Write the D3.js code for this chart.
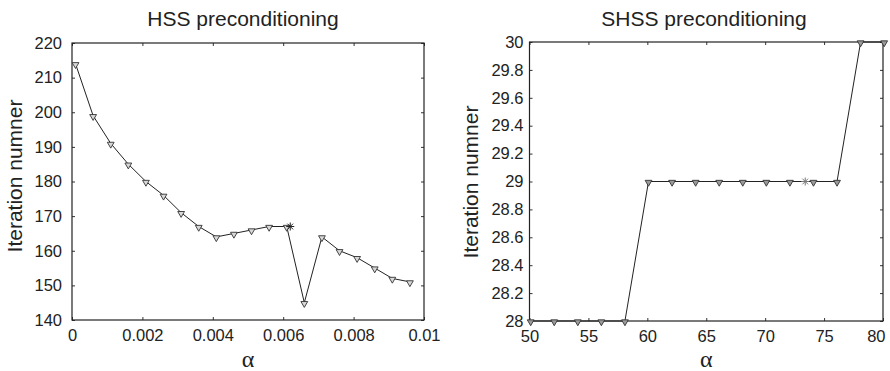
<!DOCTYPE html>
<html>
<head>
<meta charset="utf-8">
<script src="https://cdn.jsdelivr.net/npm/d3@7"></script>
<style>
  body { margin: 0; background: #fff; }
  svg text { font-family: "Liberation Sans", Arial, sans-serif; fill: #222; }
  .alpha { font-family: "Liberation Serif", "Times New Roman", serif; }
</style>
</head>
<body>
<div id="chart"></div>
<script>
// HSS panel data
const hssAlpha = [0.0001, 0.0006, 0.0011, 0.0016, 0.0021, 0.0026, 0.0031, 0.0036, 0.0041, 0.0046,
                  0.0051, 0.0056, 0.0061, 0.0066, 0.0071, 0.0076, 0.0081, 0.0086, 0.0091, 0.0096];
const hssIter = [214, 199, 191, 185, 180, 176, 171, 167, 164, 165,
                 166, 167, 167, 145, 164, 160, 158, 155, 152, 151];
const hssOptimal = [0.0062, 167];
const hssXTicks = [0, 0.002, 0.004, 0.006, 0.008, 0.01];
const hssYTicks = [140, 150, 160, 170, 180, 190, 200, 210, 220];

// SHSS panel data
const shssAlpha = [50.1, 52.1, 54.1, 56.1, 58.1, 60.1, 62.1, 64.1, 66.1, 68.1, 70.1, 72.1, 74.1, 76.1, 78.1, 80.1];
const shssIter = [28, 28, 28, 28, 28, 29, 29, 29, 29, 29, 29, 29, 29, 29, 30, 30];
const shssOptimal = [73.4, 29];
const shssXTicks = [50, 55, 60, 65, 70, 75, 80];
const shssYTicks = [28, 28.2, 28.4, 28.6, 28.8, 29, 29.2, 29.4, 29.6, 29.8, 30];

const svg = d3.select("#chart").append("svg")
  .attr("width", 890)
  .attr("height", 371);

/****** draws one framed panel with inward ticks, line and markers ******/
function drawPanel(p) {
  const x = d3.scaleLinear().domain(p.xDomain).range([p.left, p.right]);
  const y = d3.scaleLinear().domain(p.yDomain).range([p.bottom, p.top]);
  const g = svg.append("g");

  // inward ticks on all four sides
  const tick = 3;
  const bottomAxis = d3.axisBottom(x).tickValues(p.xTicks).tickSizeInner(-tick).tickSizeOuter(0)
    .tickPadding(9).tickFormat(p.xFormat);
  const leftAxis = d3.axisLeft(y).tickValues(p.yTicks).tickSizeInner(-tick).tickSizeOuter(0)
    .tickPadding(p.yPad).tickFormat(p.yFormat);

  const gb = g.append("g").attr("transform", "translate(0," + p.bottom + ")").call(bottomAxis);
  g.append("g").attr("transform", "translate(" + p.left + ",0)").call(leftAxis);
  g.append("g").attr("transform", "translate(0," + p.top + ")")
    .call(d3.axisTop(x).tickValues(p.xTicks).tickSizeInner(-tick).tickSizeOuter(0).tickFormat(""));
  g.append("g").attr("transform", "translate(" + p.right + ",0)")
    .call(d3.axisRight(y).tickValues(p.yTicks).tickSizeInner(-tick).tickSizeOuter(0).tickFormat(""));

  g.selectAll(".domain").remove();
  g.selectAll(".tick line").attr("stroke", "#333");
  g.selectAll(".tick text").style("font-size", "16.5px").attr("fill", "#222");

  // last x label sits flush against the picture edge in the right panel
  if (p.lastLabelEnd) {
    gb.selectAll(".tick text").filter((d, i, n) => i === n.length - 1)
      .attr("text-anchor", "end").attr("x", p.lastLabelEnd - p.right);
  }

  // frame
  g.append("rect")
    .attr("x", p.left).attr("y", p.top)
    .attr("width", p.right - p.left).attr("height", p.bottom - p.top)
    .attr("fill", "none").attr("stroke", "#222").attr("stroke-width", 1.2);

  // data line
  const pts = p.xs.map((d, i) => [d, p.ys[i]]);
  g.append("path")
    .datum(pts)
    .attr("fill", "none")
    .attr("stroke", "#222")
    .attr("stroke-width", 1)
    .attr("d", d3.line().x(d => x(d[0])).y(d => y(d[1])));

  // triangle markers (pointing down)
  const tri = d3.symbol().type(d3.symbolTriangle).size(20);
  g.selectAll(".mk").data(pts).enter().append("path")
    .attr("class", "mk")
    .attr("d", tri)
    .attr("transform", d => "translate(" + x(d[0]) + "," + (y(d[1]) + 0.8) + ") rotate(180)")
    .attr("fill", p.markFill)
    .attr("stroke", "#333")
    .attr("stroke-width", 0.9);

  // asterisk for optimal value
  const sx = x(p.star[0]), sy = y(p.star[1]);
  const r = 4;
  const star = g.append("g").attr("stroke", p.starColor).attr("stroke-width", 1);
  [0, 45, 90, 135].forEach(a => {
    const rad = a * Math.PI / 180;
    star.append("line")
      .attr("x1", sx - r * Math.cos(rad)).attr("y1", sy - r * Math.sin(rad))
      .attr("x2", sx + r * Math.cos(rad)).attr("y2", sy + r * Math.sin(rad));
  });

  // title and axis labels
  svg.append("text")
    .attr("x", p.titleX).attr("y", 26)
    .attr("text-anchor", "middle")
    .style("font-size", "21px")
    .text(p.title);

  svg.append("text")
    .attr("transform", "translate(" + p.ylabX + "," + p.ylabY + ") rotate(-90)")
    .attr("text-anchor", "middle")
    .style("font-size", "21px")
    .text("Iteration numner");

  svg.append("text")
    .attr("class", "alpha")
    .attr("x", (p.left + p.right) / 2).attr("y", 367)
    .attr("text-anchor", "middle")
    .style("font-size", "24px")
    .text("α");
}

drawPanel({
  left: 72, right: 424, top: 43, bottom: 320,
  xDomain: [0, 0.01], yDomain: [140, 220],
  xTicks: hssXTicks, yTicks: hssYTicks,
  xFormat: d => d === 0 ? "0" : String(+d.toFixed(3)),
  yFormat: d => String(d),
  yPad: 10,
  xs: hssAlpha, ys: hssIter, star: hssOptimal,
  markFill: "#d8d8d8", starColor: "#222",
  title: "HSS preconditioning", titleX: 243,
  ylabX: 22, ylabY: 176
});

drawPanel({
  left: 529.5, right: 883, top: 42, bottom: 321,
  xDomain: [50, 80], yDomain: [28, 30],
  xTicks: shssXTicks, yTicks: shssYTicks,
  xFormat: d => String(d),
  yFormat: d => String(+d.toFixed(1)),
  yPad: 6,
  xs: shssAlpha, ys: shssIter, star: shssOptimal,
  markFill: "#9a9a9a", starColor: "#777",
  title: "SHSS preconditioning", titleX: 704,
  ylabX: 478, ylabY: 182,
  lastLabelEnd: 885
});
</script>
</body>
</html>
